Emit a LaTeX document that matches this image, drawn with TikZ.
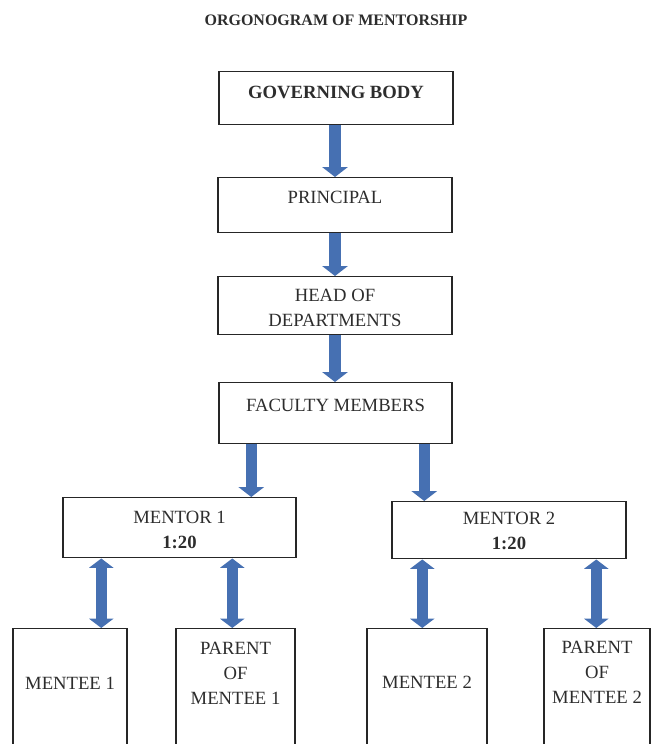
\documentclass[tikz,border=0pt]{standalone}
\usepackage{fontspec}
\setmainfont{Liberation Serif}
\usepackage{xcolor}
\usetikzlibrary{arrows.meta, calc, positioning}

\definecolor{arrowblue}{RGB}{70,112,178}
\definecolor{boxtext}{RGB}{45,45,45}
\newcommand{\boxlines}[1]{\begin{tabular}[t]{@{}c@{}}#1\end{tabular}}

\tikzset{
  orgbox/.style={draw=black!85, line width=1.1pt, inner sep=0pt, anchor=north,
    text=boxtext, font=\fontsize{14}{18.5}\selectfont},
  downarrow/.style={draw=arrowblue, line width=8.5pt,
    -{Triangle[width=19pt,length=7.5pt]}},
  twoway/.style={draw=arrowblue, line width=8pt,
    {Triangle[width=18pt,length=7pt]}-{Triangle[width=18pt,length=7pt]}}
}

\begin{document}
\begin{tikzpicture}[x=0.75pt,y=-0.75pt]
\useasboundingbox (0,0) rectangle (654,744);
\clip (0,0) rectangle (654,744);

\node (title) at (336,20) [font=\bfseries\fontsize{12}{14}\selectfont, text=boxtext] {ORGONOGRAM OF MENTORSHIP};

% top chain
\node (gov) at (336,71) [orgbox, minimum width=175.5pt, text height=20.25pt, text depth=19.5pt] {\textbf{GOVERNING BODY}};
\node (principal) at (335,177) [orgbox, minimum width=175.5pt, text height=19.5pt, text depth=21.75pt] {PRINCIPAL};
\node (hod) at (335,276) [orgbox, minimum width=175.5pt, text height=18.75pt, text depth=24.75pt] {\boxlines{HEAD OF\\DEPARTMENTS}};
\node (faculty) at (335.5,382) [orgbox, minimum width=174.75pt, text height=21.75pt, text depth=24pt] {FACULTY MEMBERS};

% mentors
\node (mentor1) at (179.5,497) [orgbox, minimum width=174.75pt, text height=19.5pt, text depth=25.5pt] {\boxlines{MENTOR 1\\\textbf{1:20}}};
\node (mentor2) at (509,501) [orgbox, minimum width=175.5pt, text height=17.25pt, text depth=25.5pt] {\boxlines{MENTOR 2\\\textbf{1:20}}};

% mentees and parents
\node (mentee1) at (70,628) [orgbox, minimum width=85.5pt, text height=45.75pt, text depth=105pt] {MENTEE 1};
\node (parent1) at (235.5,628) [orgbox, minimum width=89.25pt, text height=19.5pt, text depth=105pt] {\boxlines{PARENT\\OF\\MENTEE 1}};
\node (mentee2) at (427,628) [orgbox, minimum width=90pt, text height=45pt, text depth=105pt] {MENTEE 2};
\node (parent2) at (597,628) [orgbox, minimum width=79.5pt, text height=18.75pt, text depth=105pt] {\boxlines{PARENT\\OF\\MENTEE 2}};

% arrows
\draw[downarrow] (principal.north |- gov.south) -- (principal.north);
\draw[downarrow] (principal.south) -- (principal.south |- hod.north);
\draw[downarrow] (hod.south) -- (hod.south |- faculty.north);
\draw[downarrow] ([xshift=24.75pt]faculty.south west) coordinate (fm1) -- (fm1 |- mentor1.north);
\draw[downarrow] ([xshift=154.5pt]faculty.south west) coordinate (fm2) -- (fm2 |- mentor2.north);

\draw[twoway] ([xshift=29.25pt]mentor1.south west) coordinate (mm1) -- (mm1 |- mentee1.north);
\draw[twoway] ([xshift=127.5pt]mentor1.south west) coordinate (mp1) -- (mp1 |- parent1.north);
\draw[twoway] ([xshift=23.25pt]mentor2.south west) coordinate (mm2) -- (mm2 |- mentee2.north);
\draw[twoway] ([xshift=153.75pt]mentor2.south west) coordinate (mp2) -- (mp2 |- parent2.north);

\end{tikzpicture}
\end{document}
